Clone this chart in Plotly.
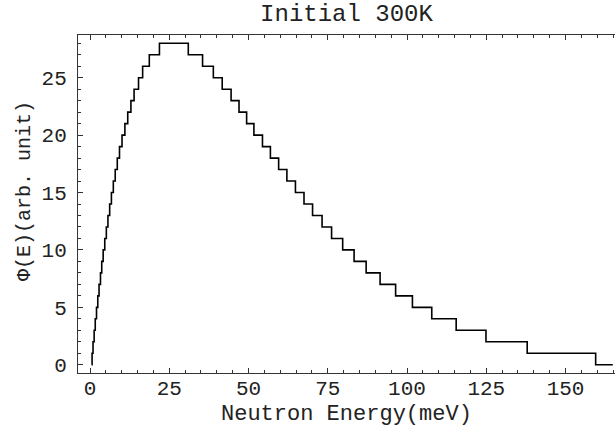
import plotly.graph_objects as go

energy = [0.5, 0.65, 0.95, 1.3, 1.65, 2.05, 2.45, 2.85, 3.3, 3.7, 4.15, 4.65, 5.15,
          5.65, 6.2, 6.75, 7.35, 7.95, 8.6, 9.3, 10.1, 11.0, 11.9, 12.9, 13.9, 15.3,
          16.6, 18.7, 21.9,
          31.0, 35.5, 38.9, 41.7, 44.5, 47.0, 49.4, 51.7, 54.4, 56.9, 59.5, 62.1,
          64.8, 67.5, 70.2, 73.2, 76.2, 79.7, 83.3, 87.1, 91.5, 96.4, 101.7, 107.8,
          115.5, 124.9, 137.9, 159.5, 164.9]
flux = [0, 1, 2, 3, 4, 5, 6, 7, 8, 9, 10, 11, 12,
        13, 14, 15, 16, 17, 18, 19, 20, 21, 22, 23, 24, 25,
        26, 27, 28,
        27, 26, 25, 24, 23, 22, 21, 20, 19, 18, 17, 16,
        15, 14, 13, 12, 11, 10, 9, 8, 7, 6, 5, 4,
        3, 2, 1, 0, 0]

x_ticks = [0, 25, 50, 75, 100, 125, 150]
y_ticks = [0, 5, 10, 15, 20, 25]

title_text = "Initial 300K"
x_title = "Neutron Energy(meV)"
y_title = "Φ(E)(arb. unit)"

FONT = "Liberation Mono"

fig = go.Figure()
fig.add_trace(go.Scatter(x=energy, y=flux, mode="lines", line_shape="hv",
                         line=dict(color="black", width=1.6), showlegend=False))

axis_common = dict(showgrid=False, zeroline=False, showline=True, linecolor="#333",
                   linewidth=1, ticks="inside", ticklen=5, tickwidth=1, tickcolor="#333",
                   tickfont=dict(family=FONT, size=21, color="#222"))

fig.update_layout(
    width=615, height=433,
    margin=dict(l=78, r=0, t=35, b=60),
    paper_bgcolor="white", plot_bgcolor="white",
    title=dict(text=title_text, x=(78 + 615) / 2 / 615, xref="container", xanchor="center",
               y=1 - 13 / 433, yref="container", yanchor="middle",
               font=dict(family=FONT, size=24, color="#222")),
    xaxis=dict(range=[-3.79, 165.6], tickvals=x_ticks, mirror="allticks",
               ticklabelstandoff=-4,
               minor=dict(dtick=5, ticks="inside", ticklen=3, tickcolor="#333"),
               **axis_common),
    yaxis=dict(range=[-0.72, 28.72], tickvals=y_ticks, mirror=False,
               ticklabelstandoff=6,
               minor=dict(dtick=1, ticks="inside", ticklen=3, tickcolor="#333"),
               **axis_common),
    annotations=[
        dict(text=x_title, xref="paper", yref="paper", x=0.5, y=-(414 - 373) / 338,
             xanchor="center", yanchor="middle", showarrow=False,
             font=dict(family=FONT, size=22, color="#222")),
        dict(text=y_title, xref="paper", yref="paper", x=-(78 - 24) / 537,
             y=(373 - 191) / 338, xanchor="center", yanchor="middle", textangle=-90,
             showarrow=False, font=dict(family=FONT, size=20, color="#222")),
    ],
)

fig.write_html("out.html")
